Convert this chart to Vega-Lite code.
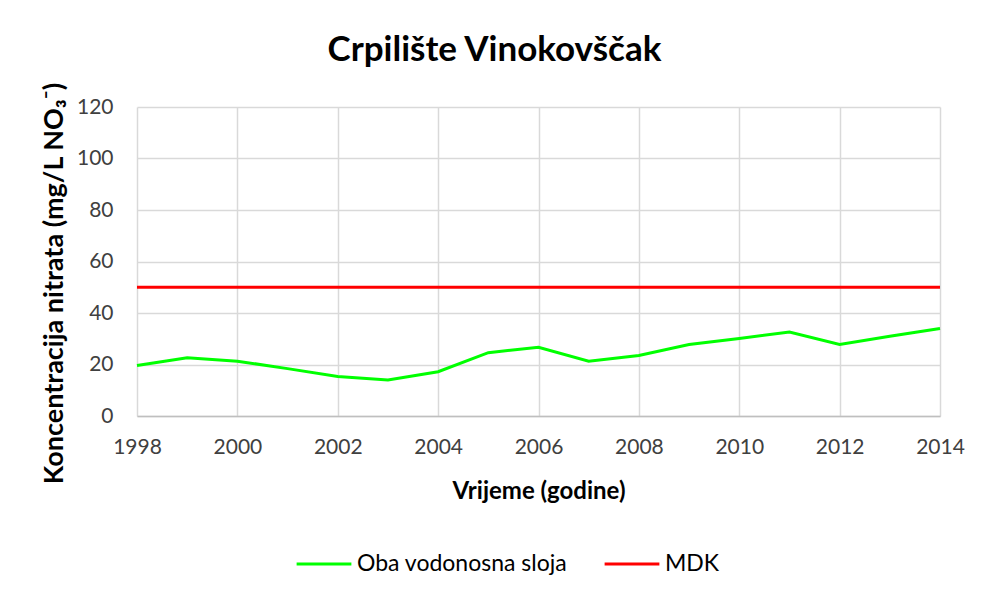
{
  "$schema": "https://vega.github.io/schema/vega-lite/v6.json",
  "width": 803,
  "height": 309,
  "autosize": {"type": "none"},
  "padding": {"left": 137, "top": 107, "right": 43, "bottom": 179},
  "background": "white",
  "title": {
    "text": "Crpilište Vinokovščak",
    "font": "Lato",
    "fontSize": 35,
    "fontWeight": "bold",
    "color": "#000000",
    "anchor": "middle",
    "dx": -44,
    "offset": 11
  },
  "data": {
    "values": [
      {"godina": 1998, "vrijednost": 19.6, "serija": "Oba vodonosna sloja"},
      {"godina": 1999, "vrijednost": 22.6, "serija": "Oba vodonosna sloja"},
      {"godina": 2000, "vrijednost": 21.3, "serija": "Oba vodonosna sloja"},
      {"godina": 2001, "vrijednost": 18.4, "serija": "Oba vodonosna sloja"},
      {"godina": 2002, "vrijednost": 15.3, "serija": "Oba vodonosna sloja"},
      {"godina": 2003, "vrijednost": 14.0, "serija": "Oba vodonosna sloja"},
      {"godina": 2004, "vrijednost": 17.2, "serija": "Oba vodonosna sloja"},
      {"godina": 2005, "vrijednost": 24.6, "serija": "Oba vodonosna sloja"},
      {"godina": 2006, "vrijednost": 26.7, "serija": "Oba vodonosna sloja"},
      {"godina": 2007, "vrijednost": 21.3, "serija": "Oba vodonosna sloja"},
      {"godina": 2008, "vrijednost": 23.5, "serija": "Oba vodonosna sloja"},
      {"godina": 2009, "vrijednost": 27.8, "serija": "Oba vodonosna sloja"},
      {"godina": 2010, "vrijednost": 30.1, "serija": "Oba vodonosna sloja"},
      {"godina": 2011, "vrijednost": 32.6, "serija": "Oba vodonosna sloja"},
      {"godina": 2012, "vrijednost": 27.8, "serija": "Oba vodonosna sloja"},
      {"godina": 2013, "vrijednost": 31.0, "serija": "Oba vodonosna sloja"},
      {"godina": 2014, "vrijednost": 34.0, "serija": "Oba vodonosna sloja"},
      {"godina": 1998, "vrijednost": 50, "serija": "MDK"},
      {"godina": 2014, "vrijednost": 50, "serija": "MDK"}
    ]
  },
  "mark": {"type": "line", "strokeWidth": 3},
  "encoding": {
    "x": {
      "field": "godina",
      "type": "quantitative",
      "scale": {"domain": [1998, 2014], "nice": false, "zero": false},
      "axis": {
        "title": "Vrijeme (godine)",
        "values": [1998, 2000, 2002, 2004, 2006, 2008, 2010, 2012, 2014],
        "format": "d",
        "labelFont": "Lato",
        "labelFontSize": 21,
        "labelColor": "#404040",
        "labelPadding": 20,
        "labelFlush": false,
        "labelOverlap": false,
        "ticks": false,
        "domainColor": "#bfbfbf",
        "domainWidth": 1.5,
        "gridColor": "#d9d9d9",
        "gridWidth": 1.5,
        "titleFont": "Lato",
        "titleFontSize": 24,
        "titleFontWeight": "bold",
        "titleColor": "#000000",
        "titlePadding": 22
      }
    },
    "y": {
      "field": "vrijednost",
      "type": "quantitative",
      "scale": {"domain": [0, 120], "nice": false},
      "axis": {
        "title": "Koncentracija  nitrata (mg/L NO₃⁻)",
        "values": [0, 20, 40, 60, 80, 100, 120],
        "labelFont": "Lato",
        "labelFontSize": 21,
        "labelColor": "#404040",
        "labelPadding": 24,
        "labelFlush": false,
        "ticks": false,
        "domain": false,
        "gridColor": "#d9d9d9",
        "gridWidth": 1.5,
        "titleFont": "Lato",
        "titleFontSize": 27,
        "titleFontWeight": "bold",
        "titleColor": "#000000",
        "titlePadding": 8,
        "titleY": 176
      }
    },
    "color": {
      "field": "serija",
      "type": "nominal",
      "scale": {
        "domain": ["Oba vodonosna sloja", "MDK"],
        "range": ["#00ff00", "#ff0000"]
      },
      "legend": {
        "title": null,
        "orient": "none",
        "direction": "horizontal",
        "legendX": 158,
        "legendY": 428,
        "symbolType": "stroke",
        "symbolSize": 3000,
        "symbolStrokeWidth": 3,
        "labelFont": "Lato",
        "labelFontSize": 23,
        "labelColor": "#000000",
        "labelOffset": 4,
        "labelLimit": 400,
        "columnPadding": 30
      }
    }
  },
  "config": {
    "view": {"stroke": null}
  }
}
